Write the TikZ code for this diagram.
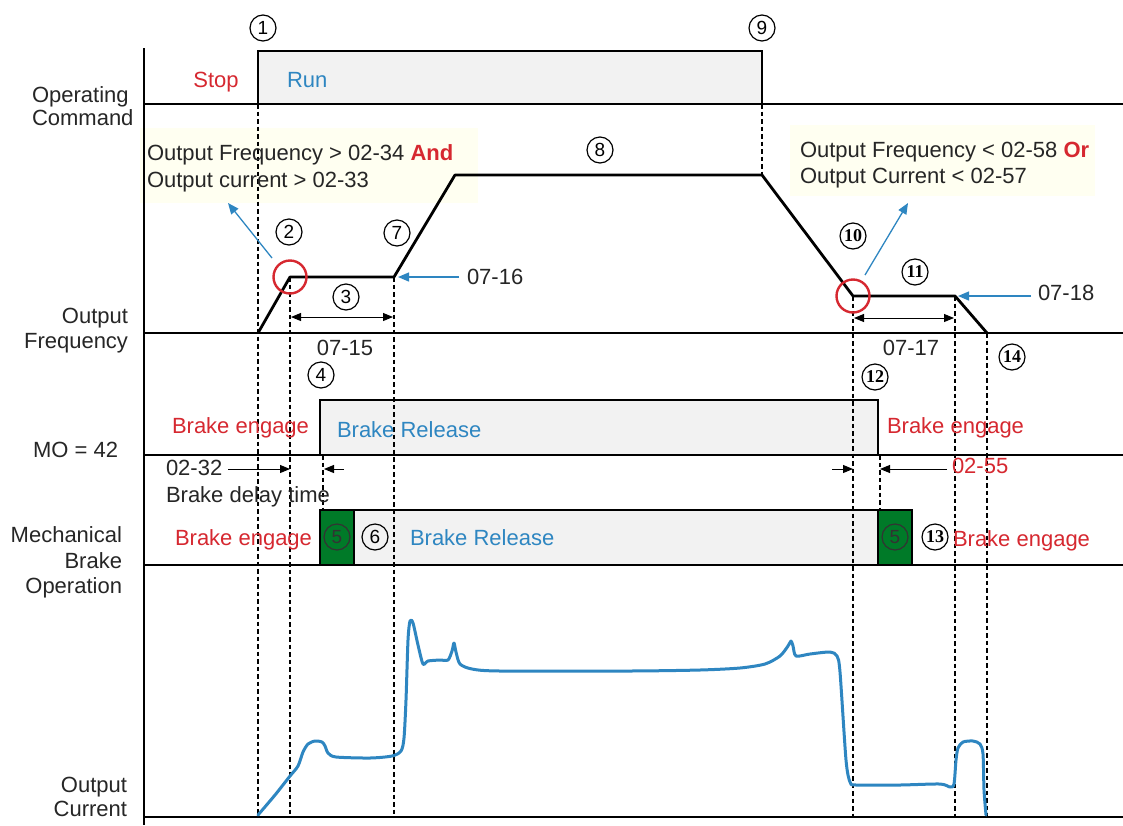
\documentclass[tikz,border=0pt]{standalone}
\usepackage{fontspec}
\setmainfont{Liberation Sans}
\newfontfamily\serifnum{Liberation Serif}
\usetikzlibrary{arrows.meta}
\definecolor{cblue}{RGB}{46,134,193}
\definecolor{cred}{RGB}{214,40,48}
\definecolor{cgray}{RGB}{242,242,242}
\definecolor{cgreen}{RGB}{0,122,40}
\definecolor{cyel}{RGB}{255,255,241}
\begin{document}
\begin{tikzpicture}[x=1pt,y=-1pt,
  every node/.style={inner sep=0pt, outer sep=0pt},
  txt/.style={font=\fontsize{22}{24}\selectfont, text=black!85},
  rtxt/.style={txt, text=cred},
  btxt/.style={txt, text=cblue},
  num/.style={circle, draw, line width=1.2pt, minimum size=26pt, font=\fontsize{19}{19}\selectfont},
  snum/.style={num, font=\serifnum\bfseries\fontsize{18}{18}\selectfont},
  axis/.style={line width=2.8pt},
  dsh/.style={line width=1.1pt, dash pattern=on 4.5pt off 3pt},
  fcurve/.style={line width=2.8pt, line join=round},
  blarrow/.style={cblue, line width=1.3pt, -{Triangle[length=11pt,width=9pt]}},
  dimarrow/.style={line width=1pt, {Triangle[length=10pt,width=8pt]}-{Triangle[length=10pt,width=8pt]}},
  onearrow/.style={line width=1pt, -{Triangle[length=10pt,width=8pt]}},
  ring/.style={circle, draw=cred, line width=2.4pt, minimum size=33pt},
]
\useasboundingbox (0,0) rectangle (1123,825);
\fill[white] (0,0) rectangle (1123,825);
% yellow backgrounds
\fill[cyel] (140,128) rectangle (478,203);
\fill[cyel] (790,125) rectangle (1095,196);

% key coordinates of the frequency curve
\coordinate (f0) at (258,333);
\coordinate (f1) at (290,277);
\coordinate (f2) at (394,277);
\coordinate (f3) at (455,175);
\coordinate (f4) at (762,175);
\coordinate (f5) at (853,296);
\coordinate (f6) at (955,296);
\coordinate (f7) at (987,333);

% boxes
\fill[cgray] (258,51) rectangle (762,104);
\draw[axis] (258,104) -- (258,51) -- (762,51) -- (762,104);
\fill[cgray] (320,400) rectangle (878,455);
\draw[axis] (320,455) -- (320,400) -- (878,400) -- (878,455);
\fill[cgray] (354,510) rectangle (878,565);
\fill[cgreen] (320,510) rectangle (354,565);
\fill[cgreen] (878,510) rectangle (912,565);
\draw[axis] (320,565) -- (320,510) -- (912,510) -- (912,565);
\draw[line width=1.5pt] (354,510) -- (354,565);
\draw[axis] (878,510) -- (878,565);

% dashed guide lines
\draw[dsh] (258,104) -- (258,817);
\draw[dsh] (290,277) -- (290,817);
\draw[dsh] (394,277) -- (394,817);
\draw[dsh] (762,104) -- (762,175);
\draw[dsh] (323,455) -- (323,510);
\draw[dsh] (853,296) -- (853,817);
\draw[dsh] (880,455) -- (880,510);
\draw[dsh] (955,296) -- (955,817);
\draw[dsh] (987,333) -- (987,817);

% axes
\draw[axis] (144,48) -- (144,825);
\foreach \yy in {104,333,455,565,817} \draw[axis] (144,\yy) -- (1123,\yy);

% frequency curve
\draw[fcurve] (f0) -- (f1) -- (f2) -- (f3) -- (f4) -- (f5) -- (f6) -- (f7);

% current curve
\draw[cblue, line width=3pt, line join=round, line cap=round] plot[smooth, tension=0.45] coordinates {
 (258,815) (275,795) (290,776) (298,766) (303,752) (308,744) (315,741) (322,742) (325,746) (328,753) (336,757) (370,758) (392,756) (401,751) (404,738) (406,700) (408,640) (410,621) (413,623) (418,645) (423,664) (428,661) (440,660) (448,660) (452,651) (454,643) (456,652) (460,664) (472,669) (500,671) (630,671) (700,670) (740,668) (765,664) (780,656) (788,646) (791,641) (793,646) (796,656) (810,654) (830,652) (837,656) (840,672) (846,760) (850,782) (856,785) (900,785) (940,784) (950,787) (954,784) (956,760) (958,748) (963,742) (973,741) (980,744) (983,754) (984,790) (986,815)};

% left labels
\node[txt, anchor=base west] (lop) at (32,102) {Operating};
\node[txt, anchor=base west] (lcmd) at (32,125) {Command};
\node[txt, anchor=base east] (lout) at (128,323) {Output};
\node[txt, anchor=base east] (lfreq) at (128,348) {Frequency};
\node[txt, anchor=base east] (lmo) at (118,457) {MO = 42};
\node[txt, anchor=base east] (lmech) at (122,542) {Mechanical};
\node[txt, anchor=base east] (lbrake) at (122,568) {Brake};
\node[txt, anchor=base east] (loper) at (122,593) {Operation};
\node[txt, anchor=base east] (lout2) at (127,792) {Output};
\node[txt, anchor=base east] (lcur) at (127,816) {Current};

% command row texts
\node[rtxt, anchor=base] (stop) at (216,87) {Stop};
\node[btxt, anchor=base west] (run) at (287,87) {Run};

% conditions
\node[txt, anchor=base west] (condA1) at (147,160) {Output Frequency > 02-34 \textcolor{cred}{\bfseries And}};
\node[txt, anchor=base west] (condA2) at (147,187) {Output current > 02-33};
\node[txt, anchor=base west] (condB1) at (800,157) {Output Frequency < 02-58 \textcolor{cred}{\bfseries Or}};
\node[txt, anchor=base west] (condB2) at (800,183) {Output Current < 02-57};

% circled numbers
\node[num] (n1) at (263,28) {1};
\node[num] (n9) at (762,28) {9};
\node[num] (n8) at (600,150) {8};
\node[num] (n2) at (289,232) {2};
\node[num] (n7) at (397,233) {7};
\node[num] (n3) at (346,297) {3};
\node[num] (n4) at (321,375) {4};
\node[snum] (n10) at (853,236) {10};
\node[snum] (n11) at (915,272) {11};
\node[snum] (n12) at (875,377) {12};
\node[snum] (n14) at (1012,357) {14};
\node[num, draw=black!80, text=black!80] (n5a) at (337,537) {5};
\node[num] (n6) at (375,537) {6};
\node[num, draw=black!80, text=black!80] (n5b) at (895,537) {5};
\node[snum] (n13) at (935,537) {13};

% red rings
\node[ring] (r1) at (f1) {};
\node[ring] (r2) at (f5) {};

% blue pointers
\coordinate (a1s) at (272,258); \coordinate (a1e) at (228,203);
\draw[blarrow] (a1s) -- (a1e);
\coordinate (a2s) at (865,275); \coordinate (a2e) at (908,203);
\draw[blarrow] (a2s) -- (a2e);
\node[txt, anchor=base west] (t0716) at (467,284) {07-16};
\coordinate (a3s) at (459,277); \coordinate (a3e) at (398,277);
\draw[blarrow] (a3s) -- (a3e);
\node[txt, anchor=base west] (t0718) at (1038,300) {07-18};
\coordinate (a4s) at (1031,296); \coordinate (a4e) at (958,296);
\draw[blarrow] (a4s) -- (a4e);

% dimension arrows
\coordinate (d1a) at (291,317); \coordinate (d1b) at (393,317);
\draw[dimarrow] (d1a) -- (d1b);
\node[txt, anchor=base] (t0715) at (345,355) {07-15};
\coordinate (d2a) at (854,318); \coordinate (d2b) at (954,318);
\draw[dimarrow] (d2a) -- (d2b);
\node[txt, anchor=base] (t0717) at (911,355) {07-17};

% MO row texts
\node[rtxt, anchor=base west] (be1) at (172,433) {Brake engage};
\node[btxt, anchor=base west] (br1) at (337,437) {Brake Release};
\node[rtxt, anchor=base west] (be2) at (887,433) {Brake engage};

% brake delay annotations
\node[txt, anchor=base west] (t0232) at (166,475) {02-32};
\node[txt, anchor=base west] (tdelay) at (166,502) {Brake delay time};
\coordinate (b1s) at (228,469); \coordinate (b1e) at (290,469);
\draw[onearrow] (b1s) -- (b1e);
\coordinate (b2s) at (344,469); \coordinate (b2e) at (324,469);
\draw[onearrow] (b2s) -- (b2e);
\coordinate (b3s) at (832,469); \coordinate (b3e) at (853,469);
\draw[onearrow] (b3s) -- (b3e);
\node[rtxt, anchor=base west] (t0255) at (952,473) {02-55};
\coordinate (b4s) at (947,469); \coordinate (b4e) at (880,469);
\draw[onearrow] (b4s) -- (b4e);

% mechanical row texts
\node[rtxt, anchor=base west] (be3) at (175,545) {Brake engage};
\node[btxt, anchor=base west] (br2) at (410,545) {Brake Release};
\node[rtxt, anchor=base west] (be4) at (953,546) {Brake engage};
\end{tikzpicture}
\end{document}
